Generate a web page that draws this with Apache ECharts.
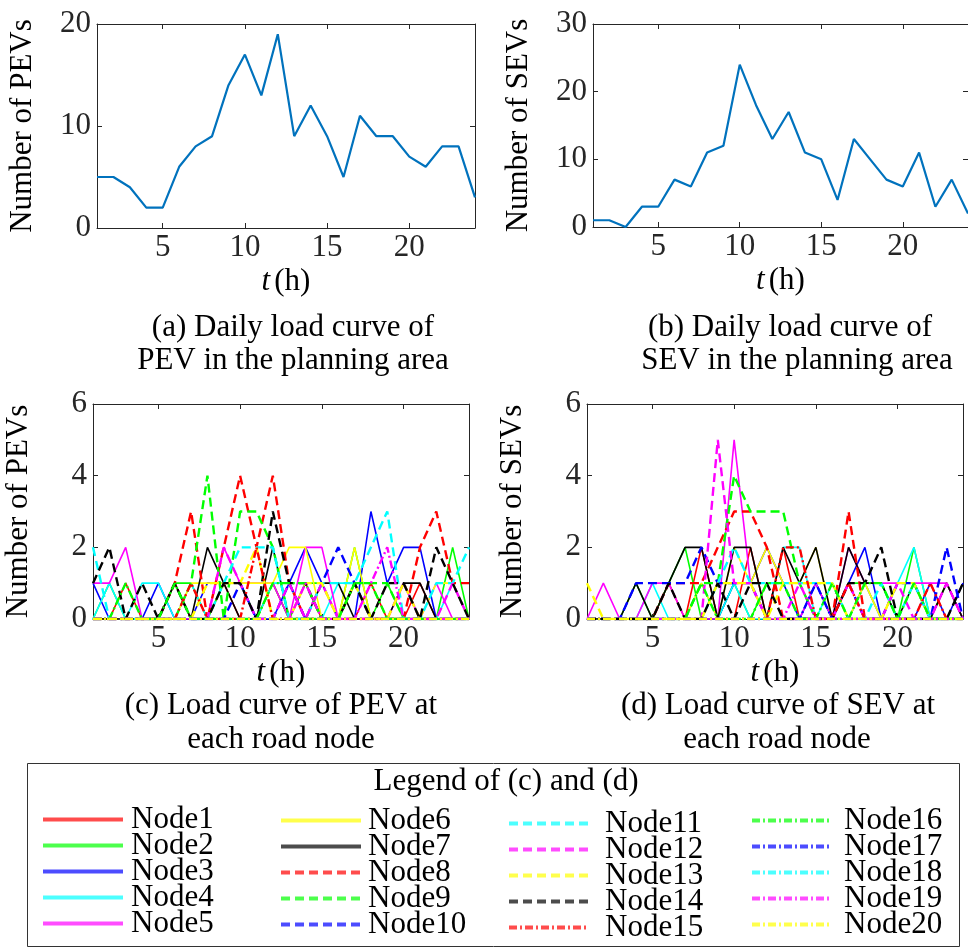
<!DOCTYPE html>
<html>
<head>
<meta charset="utf-8">
<script src="https://cdn.jsdelivr.net/npm/echarts@6/dist/echarts.min.js"></script>
<style>
html, body { margin: 0; padding: 0; background: #fff; }
#main { width: 968px; height: 952px; }
</style>
</head>
<body>
<div id="main"></div>
<script>
// 数据
var hours = [1, 2, 3, 4, 5, 6, 7, 8, 9, 10, 11, 12, 13, 14, 15, 16, 17, 18, 19, 20, 21, 22, 23, 24];
var xTicks = [5, 10, 15, 20];

var pevTotal = [5, 5, 4, 2, 2, 6, 8, 9, 14, 17, 13, 19, 9, 12, 9, 5, 11, 9, 9, 7, 6, 8, 8, 3];
var sevTotal = [1, 1, 0, 3, 3, 7, 6, 11, 12, 24, 18, 13, 17, 11, 10, 4, 13, 10, 7, 6, 11, 3, 7, 2];

var nodeNames = ['Node1', 'Node2', 'Node3', 'Node4', 'Node5', 'Node6', 'Node7', 'Node8', 'Node9', 'Node10',
    'Node11', 'Node12', 'Node13', 'Node14', 'Node15', 'Node16', 'Node17', 'Node18', 'Node19', 'Node20'];

// (c) PEV at each node
var pevN1  = [0,0,1,0,0,1,0,0,1,0,0,1,0,1,0,0,0,1,0,0,1,0,0,0];
var pevN2  = [0,1,0,0,0,1,1,0,1,1,0,1,0,1,1,0,2,0,1,0,0,0,2,0];
var pevN3  = [1,0,0,0,1,0,0,1,1,1,0,0,1,2,1,0,0,3,1,2,2,0,0,0];
var pevN4  = [0,1,0,1,1,0,1,0,0,0,0,1,1,0,0,1,1,0,0,0,0,0,1,0];
var pevN5  = [1,1,2,0,0,0,0,0,2,1,1,1,0,2,2,0,0,0,0,1,0,1,0,0];
var pevN6  = [0,0,0,0,0,0,1,1,1,1,1,1,2,2,0,0,2,0,0,0,0,1,1,0];
var pevN7  = [0,0,0,0,0,1,0,2,1,0,0,2,0,0,1,1,0,0,0,1,1,0,0,0];
var pevN8  = [0,0,0,0,0,1,3,0,2,4,2,4,1,0,0,0,0,0,0,0,2,3,1,1];
var pevN9  = [0,0,0,0,0,0,1,4,0,3,3,2,0,0,0,0,1,1,1,0,0,0,0,0];
var pevN10 = [0,0,0,0,0,0,0,0,0,1,0,0,1,0,1,2,1,0,0,0,0,0,0,0];
var pevN11 = [2,0,0,0,0,0,0,0,1,2,2,2,0,0,1,1,1,2,3,0,0,1,1,2];
var pevN12 = [0,0,0,0,0,0,0,0,2,1,0,0,1,0,1,0,0,0,0,1,0,0,1,0];
var pevN13 = [0,0,0,0,0,0,0,1,1,1,2,0,0,1,1,0,1,0,0,1,0,0,0,0];
var pevN14 = [1,2,0,1,0,1,0,0,1,1,0,3,1,1,0,0,1,0,1,1,0,2,1,0];
var pevN15 = [0,0,0,0,0,0,1,0,0,0,2,0,0,0,0,0,0,0,0,0,0,0,0,0];
var pevN16 = [0,0,1,0,0,1,0,0,0,0,0,1,1,1,0,0,1,1,0,0,0,0,0,0];
var pevN17 = [0,0,0,0,0,0,0,0,0,0,0,0,0,0,0,0,0,0,0,0,0,0,0,0];
var pevN18 = [0,0,0,0,0,0,0,0,0,0,0,0,0,0,0,0,0,0,0,0,0,0,0,0];
var pevN19 = [0,0,0,0,0,0,0,0,0,0,0,0,0,1,0,0,0,1,2,0,0,0,0,0];
var pevN20 = [0,0,0,0,0,0,0,0,0,0,0,0,0,0,0,0,0,0,0,0,0,0,0,0];

// (d) SEV at each node
var sevN1  = [0,0,0,0,0,1,0,2,0,0,2,0,2,0,0,0,0,1,0,1,1,0,1,0];
var sevN2  = [0,0,0,1,0,1,2,0,0,1,0,1,1,1,1,0,1,1,1,0,2,0,1,0];
var sevN3  = [0,0,0,0,0,0,0,0,0,1,1,2,1,0,1,0,1,2,0,0,0,1,0,1];
var sevN4  = [0,0,0,0,1,0,0,1,0,1,0,0,2,2,0,1,0,1,0,1,2,0,0,0];
var sevN5  = [0,1,0,0,1,1,0,0,0,5,1,0,0,0,1,0,2,1,1,1,1,1,1,0];
var sevN6  = [0,0,0,0,0,0,0,1,0,2,1,2,1,1,2,0,0,1,0,0,0,0,0,0];
var sevN7  = [0,0,0,1,0,1,2,2,0,2,2,0,2,1,2,0,2,1,1,0,1,0,1,0];
var sevN8  = [0,0,0,0,0,1,1,1,2,3,3,2,0,0,0,0,3,0,0,0,0,0,0,0];
var sevN9  = [0,0,0,0,0,0,0,1,1,4,3,3,3,1,0,0,0,0,0,0,0,0,0,0];
var sevN10 = [0,0,0,1,1,1,1,2,1,1,1,0,0,0,0,0,1,0,0,1,1,0,2,0];
var sevN11 = [0,0,0,0,0,0,0,0,1,2,1,1,1,1,1,1,0,0,1,0,1,0,0,0];
var sevN12 = [0,0,0,0,0,0,0,0,5,1,1,0,0,0,0,0,1,0,0,1,0,0,1,0];
var sevN13 = [1,0,0,0,0,0,0,0,1,1,1,0,1,1,1,1,0,0,0,1,1,0,0,0];
var sevN14 = [0,0,0,0,0,1,0,0,1,0,1,1,0,0,0,0,1,1,2,0,0,0,0,1];
var sevN15 = [0,0,0,0,0,0,0,0,0,0,0,0,2,2,0,0,1,0,0,0,0,1,0,0];
var sevN16 = [0,0,0,0,0,0,0,1,0,0,0,1,1,0,0,1,0,1,1,0,1,0,0,0];
var sevN17 = [0,0,0,0,0,0,0,0,0,0,0,0,0,0,1,0,0,0,0,0,0,0,0,0];
var sevN18 = [0,0,0,0,0,0,0,0,0,0,0,0,0,0,0,0,0,0,0,0,0,0,0,0];
var sevN19 = [0,0,0,0,0,0,0,0,0,0,0,0,0,1,0,0,0,0,0,0,0,0,0,0];
var sevN20 = [0,0,0,0,0,0,0,0,0,0,0,0,0,0,0,0,0,0,0,0,0,0,0,0];

var pevNodes = [pevN1, pevN2, pevN3, pevN4, pevN5, pevN6, pevN7, pevN8, pevN9, pevN10,
    pevN11, pevN12, pevN13, pevN14, pevN15, pevN16, pevN17, pevN18, pevN19, pevN20];
var sevNodes = [sevN1, sevN2, sevN3, sevN4, sevN5, sevN6, sevN7, sevN8, sevN9, sevN10,
    sevN11, sevN12, sevN13, sevN14, sevN15, sevN16, sevN17, sevN18, sevN19, sevN20];

// 样式
var FONT = '"Liberation Serif", "Times New Roman", serif';
var AXIS_COLOR = '#262626';
var baseColors = ['#ff0000', '#00ff00', '#0000ff', '#00ffff', '#ff00ff', '#ffff00', '#000000'];
var nodeColors = [];
var nodeTypes = [];
var nodeWidths = [];
for (var k = 0; k < 20; k++) {
    if (k < 7) {
        nodeColors.push(baseColors[k]);
        nodeTypes.push('solid');
        nodeWidths.push(1.6);
    } else if (k < 14) {
        nodeColors.push(baseColors[k - 7]);
        nodeTypes.push([9, 5]);
        nodeWidths.push(2.4);
    } else {
        nodeColors.push(baseColors[k - 14]);
        nodeTypes.push([8, 3, 2, 3]);
        nodeWidths.push(2.4);
    }
}

var myChart = echarts.init(document.getElementById('main'));

function toPairs(vals) {
    return hours.map(function (h, i) { return [h, vals[i]]; });
}

// 富文本样式，保证衬线字体生效
var serifRich = {
    s: { fontFamily: FONT, fontSize: 31, color: AXIS_COLOR },
    n: { fontFamily: FONT, fontSize: 31, color: '#000' },
    i: { fontFamily: FONT, fontSize: 31, fontStyle: 'italic', color: '#000', padding: [0, 4, 0, 0] }
};

var nameStyle = { fontFamily: FONT, fontSize: 31, color: '#000', rich: serifRich };

function tickFmt(v) { return '{s|' + v + '}'; }

function xPair(g) { // 下轴 + 上轴
    return [{
        type: 'value', gridIndex: g, min: 1, max: 24, position: 'bottom',
        name: '{i|t}{n|(h)}', nameLocation: 'middle', nameGap: 38, nameTextStyle: nameStyle,
        axisLine: { onZero: false, lineStyle: { color: AXIS_COLOR, width: 1 } },
        axisTick: { inside: true, length: 5, customValues: xTicks, lineStyle: { color: AXIS_COLOR } },
        axisLabel: { customValues: xTicks, margin: 4, formatter: tickFmt, rich: serifRich,
            fontFamily: FONT, fontSize: 31, color: AXIS_COLOR },
        splitLine: { show: false }
    }, {
        type: 'value', gridIndex: g, min: 1, max: 24, position: 'top',
        axisLine: { onZero: false, lineStyle: { color: AXIS_COLOR, width: 1 } },
        axisTick: { inside: true, length: 5, customValues: xTicks, lineStyle: { color: AXIS_COLOR } },
        axisLabel: { show: false },
        splitLine: { show: false }
    }];
}

function yPair(g, max, interval, name) { // 左轴 + 右轴
    return [{
        type: 'value', gridIndex: g, min: 0, max: max, interval: interval, position: 'left',
        name: '{n|' + name + '}', nameLocation: 'middle', nameGap: 59, nameTextStyle: nameStyle,
        axisLine: { show: true, onZero: false, lineStyle: { color: AXIS_COLOR, width: 1 } },
        axisTick: { show: true, inside: true, length: 5, lineStyle: { color: AXIS_COLOR } },
        axisLabel: { margin: 6, formatter: tickFmt, rich: serifRich,
            fontFamily: FONT, fontSize: 31, color: AXIS_COLOR },
        splitLine: { show: false }
    }, {
        type: 'value', gridIndex: g, min: 0, max: max, interval: interval, position: 'right',
        axisLine: { show: true, onZero: false, lineStyle: { color: AXIS_COLOR, width: 1 } },
        axisTick: { show: true, inside: true, length: 5, lineStyle: { color: AXIS_COLOR } },
        axisLabel: { show: false },
        splitLine: { show: false }
    }];
}

var series = [{
    name: 'PEV', type: 'line', xAxisIndex: 0, yAxisIndex: 0,
    data: toPairs(pevTotal), symbol: 'none',
    lineStyle: { color: '#0072BD', width: 2.2 }, itemStyle: { color: '#0072BD' }
}, {
    name: 'SEV', type: 'line', xAxisIndex: 2, yAxisIndex: 2,
    data: toPairs(sevTotal), symbol: 'none',
    lineStyle: { color: '#0072BD', width: 2.2 }, itemStyle: { color: '#0072BD' }
}];

function addNodes(list, xi, yi) {
    for (var n = 0; n < 20; n++) {
        series.push({
            name: nodeNames[n], type: 'line', xAxisIndex: xi, yAxisIndex: yi,
            data: toPairs(list[n]), symbol: 'none',
            lineStyle: { color: nodeColors[n], width: nodeWidths[n], type: nodeTypes[n] },
            itemStyle: { color: nodeColors[n] }
        });
    }
}
addNodes(pevNodes, 4, 4);
addNodes(sevNodes, 6, 6);

function legendCol(names, left, top, padLeft) {
    return {
        data: names, orient: 'vertical', left: left, top: top, height: 200, padding: 0, itemGap: -5,
        itemWidth: 80, itemHeight: 26, selectedMode: false,
        formatter: function (name) { return '{n|' + name + '}'; },
        textStyle: { fontFamily: FONT, fontSize: 31, color: '#000', padding: [0, 0, 0, padLeft], rich: serifRich },
        lineStyle: { width: 4, opacity: 0.7 },
        itemStyle: { opacity: 0 }
    };
}

function caption(text, x, y) {
    return {
        type: 'text', x: x, y: y,
        style: { text: text, fontFamily: FONT, fontSize: 31, fill: '#000', align: 'center', verticalAlign: 'middle' }
    };
}

option = {
    animation: false,
    backgroundColor: '#fff',
    textStyle: { fontFamily: FONT },
    grid: [
        { left: 97, top: 24, width: 378, height: 204 },
        { left: 593, top: 24, width: 378, height: 203 },
        { left: 93, top: 404, width: 376, height: 215 },
        { left: 587, top: 404, width: 376, height: 215 }
    ],
    xAxis: [].concat(xPair(0), xPair(1), xPair(2), xPair(3)),
    yAxis: [].concat(
        yPair(0, 20, 10, 'Number of PEVs'),
        yPair(1, 30, 10, 'Number of SEVs'),
        yPair(2, 6, 2, 'Number of PEVs'),
        yPair(3, 6, 2, 'Number of SEVs')
    ),
    legend: [
        legendCol(nodeNames.slice(0, 5), 41, 804, 3),
        legendCol(nodeNames.slice(5, 10), 279, 805, 2),
        legendCol(nodeNames.slice(10, 15), 507, 808, 11),
        legendCol(nodeNames.slice(15, 20), 750, 805, 7)
    ],
    graphic: [
        caption('(a) Daily load curve of', 293, 328),
        caption('PEV in the planning area', 293, 361),
        caption('(b) Daily load curve of', 790, 328),
        caption('SEV in the planning area', 797, 361),
        caption('(c) Load curve of PEV at', 281, 706),
        caption('each road node', 281, 740),
        caption('(d) Load curve of SEV at', 778, 706),
        caption('each road node', 777, 740),
        {
            type: 'rect', shape: { x: 27.5, y: 763.5, width: 932, height: 183 },
            style: { fill: 'none', stroke: '#333', lineWidth: 1 }
        },
        caption('Legend of (c) and (d)', 506, 782)
    ],
    series: series
};

myChart.setOption(option);
</script>
</body>
</html>
